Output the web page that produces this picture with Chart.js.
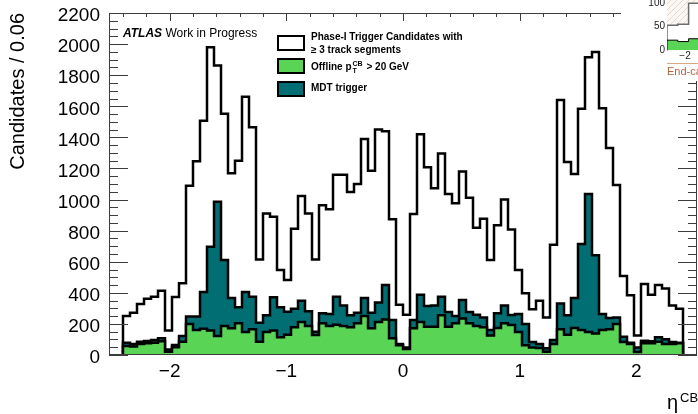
<!DOCTYPE html>
<html>
<head>
<meta charset="utf-8">
<script src="https://cdn.jsdelivr.net/npm/chart.js@4.4.1/dist/chart.umd.min.js"></script>
<style>
  body { margin: 0; background: #fff; }
  #wrap { position: relative; width: 698px; height: 414px; overflow: hidden; font-family: "Liberation Sans", Arial, sans-serif; }
  #main { position: absolute; left: 0; top: 0; }
  .txt { position: absolute; white-space: nowrap; color: #000; }
  .atlas { left: 123px; top: 26px; font-size: 12px; line-height: 14px; }
  .atlas b { font-style: italic; }
  .leg-box { position: absolute; width: 28px; height: 16px; box-sizing: border-box; border: 2px solid #000; }
  .leg-txt { position: absolute; left: 311px; font-size: 10px; font-weight: bold; white-space: nowrap; }
  .ss { display: inline-block; vertical-align: -3px; font-size: 7px; line-height: 7px; margin: 0 1px; }
  .ss span { display: block; }
  #inset { position: absolute; left: 621px; top: 0; width: 77px; height: 81px; overflow: hidden; background: #fff; }
  #insetChart { position: absolute; left: 0; top: -40px; }
  #insetLine { position: absolute; left: 46px; top: 63px; width: 40px; border-top: 1px solid #d6a886; }
</style>
</head>
<body>
<div id="wrap">
  <canvas id="main" width="698" height="414"></canvas>

  <div class="txt atlas"><b>ATLAS</b> Work in Progress</div>

  <div class="leg-box" id="box-cand" style="left:277px; top:35px;"></div>
  <div class="leg-txt" style="top:31px; line-height:12.5px;">Phase-I Trigger Candidates with<br>&ge; 3 track segments</div>
  <div class="leg-box" id="box-pt" style="left:277px; top:58px;"></div>
  <div class="leg-txt" style="top:60px; line-height:12px;">Offline p<span class="ss"><span>CB</span><span>T</span></span> &gt; 20 GeV</div>
  <div class="leg-box" id="box-mdt" style="left:277px; top:81px;"></div>
  <div class="leg-txt" style="top:82px; line-height:12px;">MDT trigger</div>

  <div class="txt" style="left:667px; top:392px; font-size:20px; line-height:20px;">&eta;</div>
  <div class="txt" style="left:680px; top:391px; font-size:13px; line-height:13px;">CB</div>

  <div id="inset">
    <canvas id="insetChart" width="226" height="120"></canvas>
    <div id="insetLine"></div>
  </div>
</div>

<script>
// eta binning of the histograms
const binLow = -2.4;
const binWidth = 0.06;

// Phase-I trigger candidates with >= 3 track segments
const triggerCandidates = [
  251, 272, 328, 362, 375, 414, 157, 373, 461, 1089,
  1246, 1507, 1979, 1863, 1552, 1169, 1250, 1662, 1465, 615,
  911, 890, 547, 482, 812, 1023, 911, 615, 963, 937,
  1160, 1160, 1048, 1100, 1390, 1186, 1450, 1440, 873, 324,
  259, 907, 1420, 1207, 1072, 1297, 1036, 976, 1181, 1012,
  819, 877, 611, 834, 1001, 808, 547, 397, 294, 349,
  242, 710, 1640, 1241, 1164, 1584, 1915, 1949, 1587, 1331,
  1093, 508, 384, 126, 457, 388, 450, 427, 319, 298
];

// MDT trigger
const mdtTrigger = [
  79, 71, 86, 90, 96, 107, 36, 64, 122, 247,
  247, 405, 697, 986, 611, 367, 307, 405, 375, 208,
  255, 371, 307, 279, 297, 349, 281, 150, 268, 264,
  375, 319, 255, 272, 367, 272, 337, 450, 225, 71,
  49, 225, 388, 315, 319, 375, 277, 251, 354, 277,
  259, 242, 161, 268, 319, 257, 264, 199, 84, 71,
  43, 96, 332, 255, 367, 714, 1036, 641, 264, 238,
  242, 118, 79, 49, 92, 88, 114, 101, 84, 79
];

// Offline pT(CB) > 20 GeV
const offlinePt = [
  58, 54, 71, 75, 79, 88, 21, 50, 86, 199,
  161, 169, 157, 122, 187, 172, 204, 148, 165, 86,
  148, 157, 114, 131, 178, 212, 187, 129, 204, 187,
  195, 187, 178, 204, 251, 172, 212, 229, 107, 62,
  39, 172, 212, 182, 182, 255, 182, 204, 234, 204,
  187, 178, 126, 174, 204, 193, 148, 62, 49, 45,
  21, 71, 165, 131, 174, 161, 148, 139, 161, 165,
  199, 84, 71, 19, 75, 75, 86, 71, 71, 75
];

const xTicks = [-2, -1, 0, 1, 2];

// piece of the neighbouring end-cap plot that overlaps the top right corner
const insetLow = -2.5;
const insetWidth = 0.3;
const insetBand = [200, 200, 200, 200];
const insetAll = [53, 55, 100, 100];
const insetPt = [21, 18, 24, 24];
const insetXTicks = [-2, -1, 0, 1, 2];
const insetYTicks = [0, 50, 100, 150];

const WHITE = '#ffffff';
const GREEN = '#5ad455';
const TEAL = '#006e72';
const FONT = '"Liberation Sans", Arial, sans-serif';

document.getElementById('box-cand').style.background = WHITE;
document.getElementById('box-pt').style.background = GREEN;
document.getElementById('box-mdt').style.background = TEAL;

const minus = v => (v < 0 ? '\u2212' + Math.abs(v) : String(v));

// step outline: points at the low edge of every bin, closed down to zero at both ends
function histPoints(values, low, width) {
  const pts = [{ x: low, y: 0 }];
  values.forEach((v, i) => pts.push({ x: +(low + i * width).toFixed(3), y: v }));
  pts.push({ x: +(low + values.length * width).toFixed(3), y: 0 });
  return pts;
}

function histDataset(label, values, fillColor) {
  return {
    label,
    data: histPoints(values, binLow, binWidth),
    stepped: 'before',
    fill: 'origin',
    backgroundColor: fillColor,
    borderColor: '#000',
    borderWidth: 2.5,
    borderJoinStyle: 'miter',
    pointRadius: 0,
    tension: 0
  };
}

// keep the frame where it is, labels may stick out of the axis boxes
function noScalePadding(s) {
  s.paddingTop = 0;
  s.paddingBottom = 0;
  s.paddingLeft = 0;
  s.paddingRight = 0;
}

// ROOT style frame with inward ticks on left, right and top
const frameTicks = {
  id: 'frameTicks',
  afterDatasetsDraw(chart) {
    const { ctx, chartArea: a, scales: { x, y } } = chart;
    ctx.save();
    ctx.strokeStyle = '#3c3c3c';
    ctx.lineWidth = 1;
    ctx.strokeRect(a.left + 0.5, a.top + 0.5, a.right - a.left - 1, a.bottom - a.top - 1);
    ctx.beginPath();
    for (let v = 0; v <= y.max; v += 50) {
      const py = Math.round(y.getPixelForValue(v)) + 0.5;
      const len = v % 200 === 0 ? 19 : 9;
      ctx.moveTo(a.left, py); ctx.lineTo(a.left + len, py);
      ctx.moveTo(a.right, py); ctx.lineTo(a.right - len, py);
    }
    for (let k = -12; k <= 12; k++) {
      const px = Math.round(x.getPixelForValue(k * 0.2)) + 0.5;
      const len = k % 5 === 0 ? 8 : 4;
      ctx.moveTo(px, a.top); ctx.lineTo(px, a.top + len);
    }
    ctx.stroke();
    ctx.restore();
  }
};

new Chart(document.getElementById('main'), {
  type: 'line',
  data: {
    datasets: [
      histDataset('Offline pT > 20 GeV', offlinePt, GREEN),
      histDataset('MDT trigger', mdtTrigger, TEAL),
      histDataset('Phase-I Trigger Candidates with >= 3 track segments', triggerCandidates, WHITE)
    ]
  },
  options: {
    responsive: false,
    animation: false,
    events: [],
    layout: { padding: { top: 13, right: 1, left: 0, bottom: 0 } },
    plugins: { legend: { display: false }, tooltip: { enabled: false } },
    scales: {
      x: {
        type: 'linear',
        min: -2.52,
        max: 2.52,
        afterFit: s => { s.height = 59; noScalePadding(s); },
        afterBuildTicks: s => { s.ticks = xTicks.map(v => ({ value: v })); },
        grid: { display: false, drawTicks: false },
        border: { display: false },
        ticks: {
          autoSkip: false,
          maxRotation: 0,
          padding: 5,
          color: '#000',
          font: { family: FONT, size: 19 },
          callback: v => minus(v)
        }
      },
      y: {
        min: 0,
        max: 2200,
        afterFit: s => { s.width = 109; noScalePadding(s); },
        grid: { display: false, drawTicks: false },
        border: { display: false },
        ticks: {
          stepSize: 200,
          autoSkip: false,
          padding: 9,
          labelOffset: 3,
          color: '#000',
          font: { family: FONT, size: 19 },
          callback: v => String(v)
        },
        title: {
          display: true,
          text: 'Candidates / 0.06',
          align: 'end',
          color: '#000',
          padding: { top: 6, bottom: 0 },
          font: { family: FONT, size: 20 }
        }
      }
    }
  },
  plugins: [frameTicks]
});

function hatch() {
  const c = document.createElement('canvas');
  c.width = 6; c.height = 6;
  const g = c.getContext('2d');
  g.fillStyle = '#fbf8f4';
  g.fillRect(0, 0, 6, 6);
  g.strokeStyle = '#e8dacb';
  g.beginPath(); g.moveTo(0, 6); g.lineTo(6, 0); g.stroke();
  return g.createPattern(c, 'repeat');
}

function insetDataset(values, fillColor, lineColor, width) {
  return {
    data: histPoints(values, insetLow, insetWidth),
    stepped: 'before',
    fill: 'origin',
    backgroundColor: fillColor,
    borderColor: lineColor,
    borderWidth: width,
    pointRadius: 0
  };
}

new Chart(document.getElementById('insetChart'), {
  type: 'line',
  data: {
    datasets: [
      insetDataset(insetPt, GREEN, '#000', 1),
      insetDataset(insetAll, WHITE, '#6e6e6e', 1.5),
      insetDataset(insetBand, hatch(), 'rgba(0,0,0,0)', 0)
    ]
  },
  options: {
    responsive: false,
    animation: false,
    events: [],
    layout: { padding: { top: 1, right: 0, left: 0, bottom: 0 } },
    plugins: { legend: { display: false }, tooltip: { enabled: false } },
    scales: {
      x: {
        type: 'linear',
        min: -2.5,
        max: 2.5,
        afterFit: s => { s.height = 30; noScalePadding(s); },
        afterBuildTicks: s => { s.ticks = insetXTicks.map(v => ({ value: v })); },
        grid: { display: false, drawTicks: false },
        border: { display: false },
        ticks: { padding: 0, color: '#222', font: { family: FONT, size: 10 }, callback: v => minus(v) },
        title: {
          display: true,
          text: 'End-cap',
          align: 'start',
          color: '#b4643c',
          padding: { top: 0, bottom: 1 },
          font: { family: FONT, size: 11 }
        }
      },
      y: {
        min: 0,
        max: 190,
        afterFit: s => { s.width = 46; noScalePadding(s); },
        afterBuildTicks: s => { s.ticks = insetYTicks.map(v => ({ value: v })); },
        grid: { display: false, drawTicks: false },
        border: { display: true, color: '#b0b0b0', width: 1 },
        ticks: { padding: 2, color: '#222', font: { family: FONT, size: 10 } }
      }
    }
  }
});
</script>
</body>
</html>
